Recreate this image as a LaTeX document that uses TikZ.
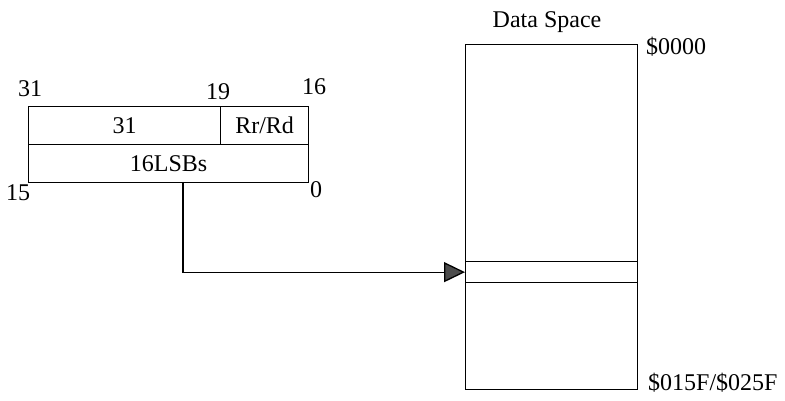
\documentclass[tikz,border=0pt]{standalone}
\usepackage{fontspec}
\setmainfont{Liberation Serif}
\usetikzlibrary{arrows.meta}
\tikzset{
    field/.style={draw, line width=1.3pt, inner sep=0pt, anchor=north west},
    bitnum/.style={inner sep=0pt}
}
\begin{document}
\begin{tikzpicture}[x=1pt, y=-1pt, font=\fontsize{24}{28}\selectfont]
    \useasboundingbox (0,0) rectangle (785,401);
    % instruction word
    \node[field, minimum width=192pt, minimum height=38pt] (hi) at (28,106) {31};
    \node[field, minimum width=88pt, minimum height=38pt] (rrd) at (220,106) {Rr/Rd};
    \node[field, minimum width=280pt, minimum height=38pt] (lsb) at (28,144) {16LSBs};
    \node[bitnum] (b31) at (30,89) {31};
    \node[bitnum] (b19) at (218,92) {19};
    \node[bitnum] (b16) at (314,87) {16};
    \node[bitnum] (b15) at (18,193) {15};
    \node[bitnum] (b0) at (316,190) {0};
    % data space
    \node[field, minimum width=172pt, minimum height=345pt] (mem) at (465,44) {};
    \node[field, minimum width=172pt, minimum height=21pt] (slot) at (465,261) {};
    \node (title) at (547,22) {Data Space};
    \node[anchor=west, inner sep=0pt] (top) at (646,47) {\$0000};
    \node[anchor=west, inner sep=0pt] (end) at (648,383) {\$015F/\$025F};
    % pointer
    \coordinate (tap) at (183,182);
    \draw[line width=1.3pt, -{Triangle[length=21pt, width=20pt, fill=black!70]}] (tap) |- (slot.west);
\end{tikzpicture}
\end{document}
